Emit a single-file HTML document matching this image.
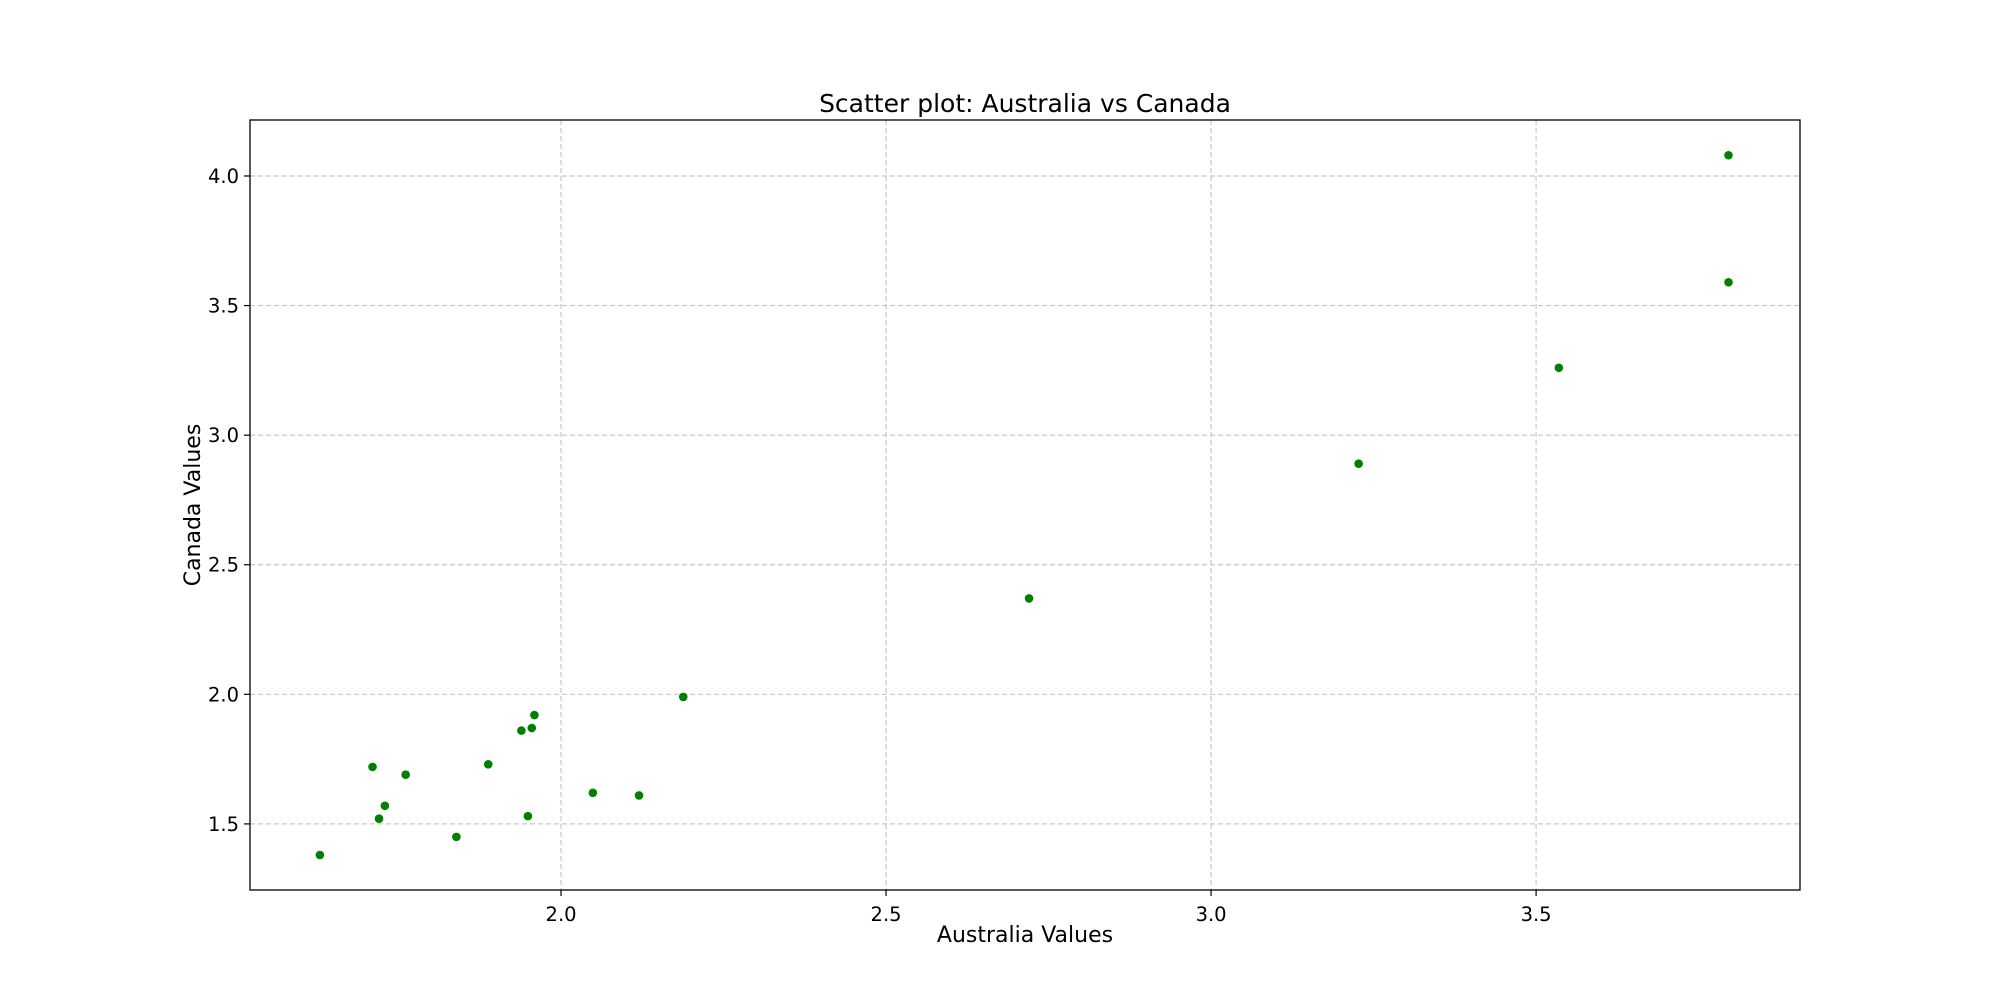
<!DOCTYPE html>
<html><head><meta charset="utf-8">
<style>
html,body{margin:0;padding:0;background:#fff;}
svg{display:block;font-family:"DejaVu Sans","Liberation Sans",sans-serif;}
</style></head>
<body>
<svg id="chart" width="2000" height="1000" viewBox="0 0 2000 1000" xmlns="http://www.w3.org/2000/svg">
<rect width="2000" height="1000" fill="#fff"/>
<g id="grid"></g>
<g id="points"></g>
<rect x="250" y="120" width="1550" height="770" fill="none" stroke="#000" stroke-width="1.3"/>
<g id="ticks"></g>
<text x="1025" y="112" text-anchor="middle" font-size="25">Scatter plot: Australia vs Canada</text>
<text x="1025" y="942" text-anchor="middle" font-size="22">Australia Values</text>
<text transform="translate(200,505) rotate(-90)" text-anchor="middle" font-size="22">Canada Values</text>
</svg>
<script>
const australia = [1.629,1.710,1.720,1.729,1.761,1.839,1.888,1.939,1.949,1.955,1.959,2.049,2.120,2.188,2.720,3.227,3.535,3.796,3.796];
const canada = [1.38,1.72,1.52,1.57,1.69,1.45,1.73,1.86,1.53,1.87,1.92,1.62,1.61,1.99,2.37,2.89,3.26,3.59,4.08];
const xTicks = [2.0,2.5,3.0,3.5];
const yTicks = [1.5,2.0,2.5,3.0,3.5,4.0];

const X0=250,X1=1800,Y0=120,Y1=890;
const xMin=1.5215,xMax=3.906,yMin=1.245,yMax=4.216;
function xs(v){return X0+(v-xMin)/(xMax-xMin)*(X1-X0);}
function ys(v){return Y1-(v-yMin)/(yMax-yMin)*(Y1-Y0);}
const NS='http://www.w3.org/2000/svg';
function mk(tag,attrs,parent){const e=document.createElementNS(NS,tag);for(const k in attrs)e.setAttribute(k,attrs[k]);parent.appendChild(e);return e;}
const grid=document.getElementById('grid'),ticks=document.getElementById('ticks'),pts=document.getElementById('points');
xTicks.forEach(t=>{
  const x=xs(t);
  const g=mk('line',{x1:x,x2:x,y1:Y0,y2:Y1,stroke:'#c8c8c8','stroke-width':1.2,'stroke-dasharray':'5,3'},grid);
  
  
  const tk=mk('line',{x1:x,x2:x,y1:Y1,y2:Y1+6,stroke:'#000','stroke-width':1.2},ticks);
  
  
  const lb=mk('text',{x:x,y:Y1+31,'text-anchor':'middle','font-size':19.5},ticks);
  lb.textContent=t.toFixed(1);
  
  
});
yTicks.forEach(t=>{
  const y=ys(t);
  const g=mk('line',{x1:X0,x2:X1,y1:y,y2:y,stroke:'#c8c8c8','stroke-width':1.2,'stroke-dasharray':'5,3'},grid);
  
  
  const tk=mk('line',{x1:X0-6,x2:X0,y1:y,y2:y,stroke:'#000','stroke-width':1.2},ticks);
  
  
  const lb=mk('text',{x:X0-11,y:y+7,'text-anchor':'end','font-size':19.5},ticks);
  lb.textContent=t.toFixed(1);
  
  
});
australia.forEach((a,i)=>{
  const c=mk('circle',{cx:xs(a),cy:ys(canada[i]),r:4.3,fill:'#008000'},pts);
  
  
});
</script>
</body></html>
